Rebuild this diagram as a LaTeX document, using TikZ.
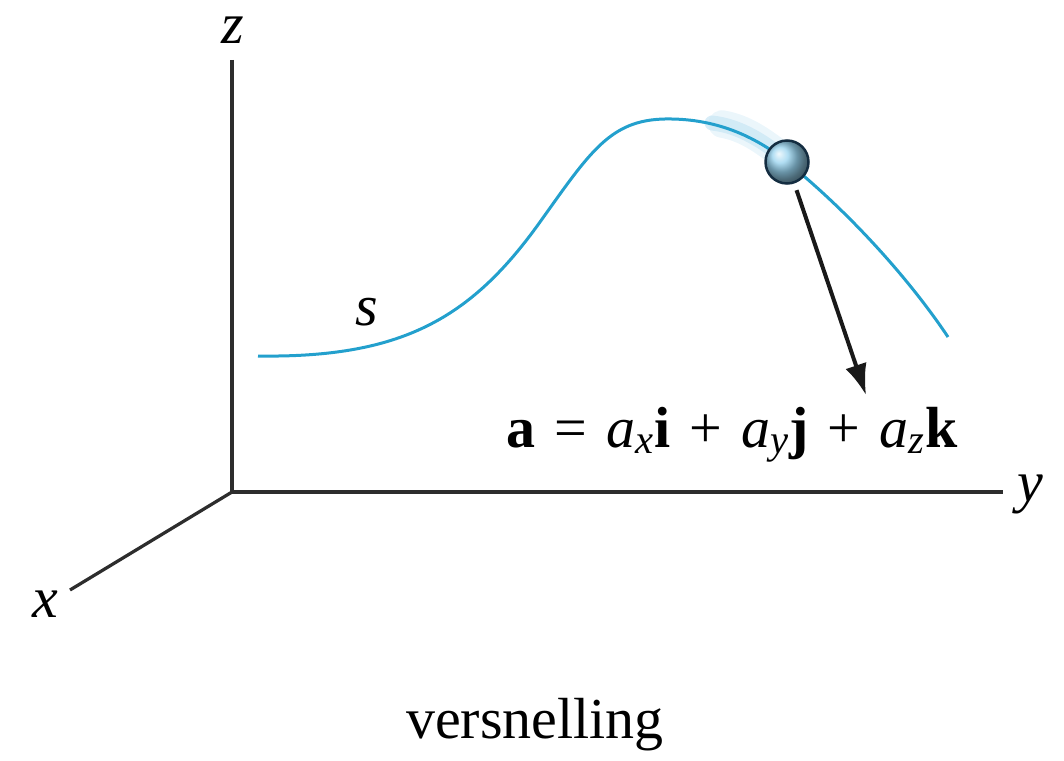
\documentclass[tikz,border=0pt]{standalone}
\usepackage{fontspec}
\setmainfont{Liberation Serif}
\usetikzlibrary{arrows.meta}
\definecolor{curveblue}{RGB}{35,160,205}
\definecolor{axisgray}{RGB}{45,45,45}
\definecolor{ballline}{RGB}{20,45,65}
\definecolor{ballfill}{RGB}{150,210,238}
\definecolor{glow}{RGB}{200,230,245}
\tikzset{
  axis/.style={draw=axisgray, line width=0.065cm},
  pathcurve/.style={draw=curveblue, line width=0.06cm},
  lbl/.style={font=\fontsize{33}{40}\selectfont\itshape, inner sep=0pt},
  txt/.style={font=\fontsize{33}{40}\selectfont, inner sep=0pt},
  accel/.style={draw=black!90, line width=0.08cm, -{Latex[length=0.62cm,width=0.44cm]}},
  particle/.style={circle, minimum size=0.86cm, inner sep=0pt, draw=ballline, line width=0.05cm, shading=ball, ball color=ballfill}
}
\newcommand{\gp}{\hspace{0.33em}}
\begin{document}
\begin{tikzpicture}[x=0.02cm,y=-0.02cm]
\useasboundingbox (0,0) rectangle (1064,760);
% axes
\coordinate (O) at (232,492);
\coordinate (ztop) at (232,60);
\coordinate (yend) at (1003,492);
\coordinate (xend) at (70,590);
\draw[axis] (ztop) -- (O) -- (yend);
\draw[axis] (O) -- (xend);
\node[lbl] (zl) at (233,30) {z};
\node[lbl] (yl) at (1030,494) {y};
\node[lbl] (xl) at (45,604) {x};
% glow near particle
\draw[glow!70!white, line width=0.55cm, line cap=round, opacity=0.5] (722,124) .. controls (745,128) and (762,140) .. (785,158);
\draw[glow, line width=0.3cm, line cap=round, opacity=0.7] (712,123) .. controls (740,126) and (765,142) .. (790,163);
% path
\coordinate (p0) at (258,356);
\coordinate (p1) at (540,222);
\coordinate (p2) at (665,119);
\coordinate (p3) at (787,162);
\coordinate (p4) at (948,337);
\draw[pathcurve] (p0) .. controls (400,358) and (470,320) .. (p1)
  .. controls (590,152) and (610,120) .. (p2)
  .. controls (720,118) and (760,140) .. (p3)
  .. controls (850,213) and (910,280) .. (p4);
\node[lbl] (s) at (367,312) {s};
% particle and acceleration
\node[particle] (ball) at (p3) {};
\coordinate (tip) at (866,395);
\draw[accel, shorten <=0.14cm] (ball) -- (tip);
\node[txt, anchor=base] (eq) at (732,447) {\textbf{a}\gp=\gp\textit{a}\textsubscript{\textit{x}}\textbf{i}\gp+\gp\textit{a}\textsubscript{\textit{y}}\textbf{j}\gp+\gp\textit{a}\textsubscript{\textit{z}}\textbf{k}};
\node[txt, anchor=base] (cap) at (535,738) {versnelling};
\end{tikzpicture}
\end{document}
